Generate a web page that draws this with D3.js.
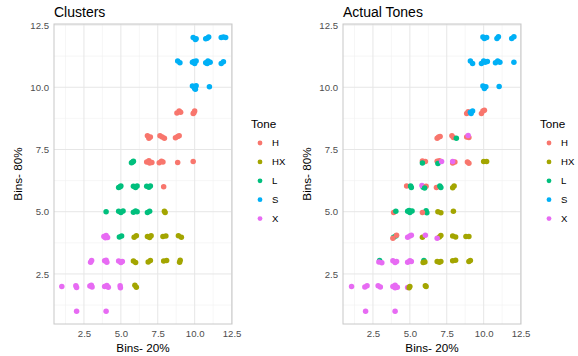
<!DOCTYPE html>
<html>
<head>
<meta charset="utf-8">
<script src="https://cdn.jsdelivr.net/npm/d3@7"></script>
<style>
  body { margin: 0; background: #fff; }
  svg { font-family: "Liberation Sans", Arial, sans-serif; }
</style>
</head>
<body>
<div id="chart"></div>
<script>
const tones = ["H", "HX", "L", "S", "X"];
const toneColors = ["#F8766D", "#A3A500", "#00BF7D", "#00B0F6", "#E76BF3"];
const majorTicks = [2.5, 5.0, 7.5, 10.0, 12.5];
const minorTicks = [1.25, 3.75, 6.25, 8.75, 11.25];
const panelTitles = ["Clusters", "Actual Tones"];

// jittered points: [bins 20%, bins 80%, tone]
const clusterPts = [
  [9.9, 12.0, "S"], [10.1, 11.95, "S"], [10.05, 11.92, "S"],
  [10.75, 11.95, "S"], [10.95, 12.02, "S"], [10.85, 11.97, "S"],
  [11.8, 12.0, "S"], [11.95, 12.02, "S"], [12.1, 12.0, "S"],
  [8.85, 11.05, "S"], [9.0, 10.98, "S"],
  [9.85, 11.0, "S"], [10.0, 10.95, "S"], [10.1, 11.05, "S"], [9.95, 11.03, "S"],
  [10.75, 10.98, "S"], [10.9, 11.05, "S"], [11.05, 11.0, "S"], [10.85, 10.95, "S"],
  [11.8, 10.95, "S"], [11.95, 11.02, "S"],
  [9.85, 10.05, "S"], [10.0, 9.95, "S"], [9.95, 10.02, "S"], [10.1, 10.06, "S"], [10.05, 9.92, "S"],
  [11.0, 10.02, "S"],
  [8.8, 8.97, "H"], [8.95, 9.05, "H"], [9.05, 9.0, "H"], [9.9, 8.95, "H"], [10.0, 9.05, "H"], [9.95, 8.98, "H"],
  [6.8, 8.05, "H"], [6.9, 7.95, "H"], [7.0, 8.0, "H"],
  [7.65, 8.05, "H"], [7.8, 8.0, "H"], [7.95, 7.95, "H"],
  [8.7, 7.97, "H"], [8.85, 8.02, "H"], [8.95, 8.05, "H"],
  [5.72, 6.97, "L"], [5.85, 7.03, "L"], [5.8, 7.0, "L"],
  [6.75, 7.0, "H"], [6.9, 7.05, "H"], [7.1, 6.98, "H"], [6.95, 6.96, "H"],
  [7.6, 6.97, "H"], [7.75, 7.03, "H"], [7.85, 7.0, "H"],
  [8.85, 6.98, "H"], [9.9, 7.02, "H"],
  [4.85, 5.97, "L"], [5.0, 6.03, "L"], [4.95, 6.0, "L"],
  [5.85, 6.02, "L"], [6.0, 5.97, "L"], [6.1, 6.03, "L"], [5.95, 6.0, "L"],
  [6.75, 6.02, "L"], [6.9, 5.98, "L"], [7.0, 6.03, "L"],
  [7.9, 6.0, "H"],
  [4.0, 5.0, "L"],
  [4.85, 5.02, "L"], [5.0, 4.97, "L"], [5.15, 5.03, "L"],
  [5.85, 4.98, "L"], [6.0, 5.03, "L"], [6.1, 5.0, "L"],
  [6.8, 4.97, "L"], [6.95, 5.02, "L"],
  [7.95, 5.02, "HX"], [8.0, 4.97, "HX"],
  [3.85, 4.0, "X"], [4.0, 4.04, "X"], [4.1, 3.96, "X"], [3.95, 3.95, "X"],
  [4.9, 3.98, "L"], [5.05, 4.02, "L"],
  [5.9, 3.97, "HX"], [6.05, 4.03, "HX"],
  [6.8, 4.0, "HX"], [6.95, 3.96, "HX"], [7.05, 4.03, "HX"],
  [7.85, 4.0, "HX"], [8.05, 4.02, "HX"],
  [8.9, 4.03, "HX"], [9.1, 3.97, "HX"],
  [2.95, 2.97, "X"], [3.02, 3.04, "X"],
  [3.9, 3.03, "X"], [4.05, 2.97, "X"], [4.0, 3.05, "X"],
  [4.85, 3.02, "X"], [5.0, 2.96, "X"], [5.1, 3.0, "X"],
  [5.85, 3.02, "HX"], [6.0, 2.96, "HX"],
  [6.85, 2.98, "HX"], [7.0, 3.04, "HX"],
  [7.9, 3.02, "HX"], [8.1, 3.04, "HX"],
  [8.98, 2.97, "HX"], [9.02, 3.05, "HX"],
  [1.0, 2.0, "X"],
  [1.95, 2.03, "X"], [2.0, 1.96, "X"],
  [2.9, 2.02, "X"], [3.05, 1.98, "X"], [3.0, 2.05, "X"],
  [3.9, 2.0, "X"], [4.05, 2.04, "X"], [4.15, 1.97, "X"],
  [4.95, 2.03, "X"], [4.97, 1.95, "X"],
  [5.95, 2.05, "HX"], [6.05, 1.97, "HX"],
  [2.0, 1.0, "X"], [4.0, 1.0, "X"]
];

const actualPts = [
  [9.95, 12.02, "S"], [10.05, 11.96, "S"], [10.2, 12.0, "S"],
  [10.9, 11.96, "S"], [11.0, 12.03, "S"],
  [11.9, 11.96, "S"], [12.05, 12.03, "S"],
  [9.1, 11.05, "S"], [9.25, 10.95, "S"],
  [9.85, 10.95, "S"], [10.0, 11.05, "S"], [10.1, 11.0, "S"], [10.25, 11.03, "S"],
  [10.8, 10.98, "S"], [10.95, 11.05, "S"], [11.1, 11.0, "S"],
  [12.05, 11.0, "S"],
  [9.95, 10.05, "S"], [10.05, 9.95, "S"], [10.15, 10.02, "S"],
  [11.05, 10.03, "S"],
  [8.85, 8.95, "H"], [8.95, 9.02, "H"],
  [9.1, 9.0, "S"], [9.25, 9.05, "S"], [9.15, 8.95, "S"],
  [9.85, 8.95, "H"], [9.95, 9.05, "H"], [10.05, 9.08, "H"],
  [6.85, 7.95, "H"], [6.95, 8.0, "H"], [7.05, 8.02, "H"],
  [7.85, 8.05, "H"], [7.95, 7.98, "H"],
  [8.15, 7.95, "L"],
  [8.85, 8.0, "H"], [9.0, 7.98, "H"],
  [8.95, 8.06, "X"],
  [5.85, 7.04, "H"], [6.05, 7.02, "H"], [5.85, 6.96, "L"],
  [6.85, 7.03, "H"], [7.0, 7.05, "H"], [6.9, 6.94, "L"], [7.15, 7.02, "X"],
  [7.9, 6.96, "H"], [8.05, 7.0, "H"], [7.9, 7.02, "X"],
  [8.9, 7.0, "H"], [9.0, 6.95, "H"],
  [10.0, 7.02, "HX"], [10.2, 7.02, "HX"],
  [4.78, 6.03, "H"], [5.1, 5.97, "L"], [5.05, 6.03, "L"],
  [5.9, 5.98, "L"], [5.82, 6.05, "X"], [6.1, 6.02, "H"], [6.0, 5.95, "L"],
  [6.8, 5.97, "H"], [7.03, 6.03, "L"], [7.1, 5.97, "L"],
  [7.9, 5.96, "HX"], [8.0, 6.03, "HX"],
  [3.9, 4.97, "H"], [4.05, 5.02, "L"],
  [4.85, 5.02, "L"], [5.0, 4.97, "L"], [5.15, 5.03, "L"], [4.95, 5.05, "L"],
  [6.1, 5.04, "L"], [6.15, 4.96, "L"], [5.85, 4.97, "H"],
  [6.9, 5.0, "HX"], [7.1, 4.96, "HX"],
  [7.95, 5.02, "HX"],
  [3.9, 3.97, "L"], [4.05, 4.02, "L"], [4.1, 4.05, "H"], [3.85, 3.93, "H"],
  [4.85, 3.97, "X"], [5.0, 4.02, "X"], [5.1, 4.05, "X"],
  [5.85, 3.97, "HX"], [6.05, 4.05, "X"],
  [7.0, 3.98, "HX"], [7.1, 4.04, "HX"], [6.85, 3.93, "X"],
  [7.9, 4.02, "HX"], [8.1, 3.98, "HX"],
  [8.8, 4.0, "HX"], [9.0, 4.0, "HX"],
  [2.95, 3.04, "L"], [2.9, 2.98, "X"], [3.1, 2.95, "X"],
  [3.85, 3.03, "X"], [4.0, 2.96, "X"], [4.1, 3.0, "X"],
  [4.85, 2.97, "X"], [5.0, 3.03, "X"], [5.1, 3.0, "X"],
  [5.95, 3.04, "L"], [5.9, 2.96, "HX"], [6.02, 2.98, "HX"],
  [6.85, 3.0, "HX"], [7.0, 2.97, "HX"], [7.1, 3.0, "HX"],
  [7.9, 3.03, "HX"], [8.1, 3.05, "HX"],
  [9.0, 3.0, "HX"], [9.1, 3.04, "HX"],
  [1.05, 2.0, "X"],
  [1.95, 1.98, "X"], [2.1, 2.03, "X"],
  [2.85, 2.03, "X"], [3.0, 1.98, "X"],
  [3.85, 2.0, "X"], [4.0, 2.05, "X"], [4.15, 1.97, "X"], [4.0, 1.95, "X"],
  [4.85, 1.96, "X"], [5.0, 2.0, "HX"], [4.95, 1.95, "HX"],
  [6.05, 2.03, "HX"], [6.1, 2.0, "HX"],
  [2.0, 1.0, "X"], [4.0, 1.0, "X"]
];

const width = 578;
const height = 356;

const color = d3.scaleOrdinal().domain(tones).range(toneColors);

const svg = d3.select("#chart").append("svg")
  .attr("width", width)
  .attr("height", height);

function drawPanel(pts, title, left) {
  const right = left + 178;
  const top = 24, bottom = 324;

  const x = d3.scaleLinear().domain([0.47, 12.53]).range([left, right]);
  const y = d3.scaleLinear().domain([0.49, 12.54]).range([bottom, top]);

  const g = svg.append("g");

  // grid
  g.append("g")
    .selectAll("line")
    .data(minorTicks)
    .join("line")
    .attr("x1", d => x(d)).attr("x2", d => x(d))
    .attr("y1", top).attr("y2", bottom)
    .attr("stroke", "#f0f0f0").attr("stroke-width", 0.6);
  g.append("g")
    .selectAll("line")
    .data(minorTicks)
    .join("line")
    .attr("y1", d => y(d)).attr("y2", d => y(d))
    .attr("x1", left).attr("x2", right)
    .attr("stroke", "#f0f0f0").attr("stroke-width", 0.6);
  g.append("g")
    .selectAll("line")
    .data(majorTicks)
    .join("line")
    .attr("x1", d => x(d)).attr("x2", d => x(d))
    .attr("y1", top).attr("y2", bottom)
    .attr("stroke", "#e6e6e6").attr("stroke-width", 1);
  g.append("g")
    .selectAll("line")
    .data(majorTicks)
    .join("line")
    .attr("y1", d => y(d)).attr("y2", d => y(d))
    .attr("x1", left).attr("x2", right)
    .attr("stroke", "#e6e6e6").attr("stroke-width", 1);

  g.append("g")
    .selectAll("circle")
    .data(pts)
    .join("circle")
    .attr("cx", d => x(d[0]))
    .attr("cy", d => y(d[1]))
    .attr("r", 2.75)
    .attr("fill", d => color(d[2]));

  g.append("rect")
    .attr("x", left).attr("y", top)
    .attr("width", right - left).attr("height", bottom - top)
    .attr("fill", "none")
    .attr("stroke", "#c8c8c8");

  // axes
  const xAxis = g.append("g")
    .attr("transform", `translate(0,${bottom})`)
    .call(d3.axisBottom(x).tickValues(majorTicks).tickFormat(d3.format(".1f")).tickSize(0).tickPadding(6));
  const yAxis = g.append("g")
    .attr("transform", `translate(${left},0)`)
    .call(d3.axisLeft(y).tickValues(majorTicks).tickFormat(d3.format(".1f")).tickSize(0).tickPadding(5));
  [xAxis, yAxis].forEach(a => {
    a.select(".domain").remove();
    a.selectAll("text")
      .attr("fill", "#4d4d4d")
      .style("font-size", "9.6px")
      .style("font-family", "Liberation Sans, Arial, sans-serif");
  });

  g.append("text")
    .attr("x", left).attr("y", 17)
    .attr("font-size", 14)
    .attr("fill", "#000")
    .text(title);

  g.append("text")
    .attr("x", (left + right) / 2).attr("y", 352)
    .attr("text-anchor", "middle")
    .attr("font-size", 11.7)
    .text("Bins- 20%");

  g.append("text")
    .attr("transform", `translate(${left - 32},${(top + bottom) / 2}) rotate(-90)`)
    .attr("text-anchor", "middle")
    .attr("font-size", 11.7)
    .text("Bins- 80%");

  // legend
  const lg = g.append("g").attr("transform", `translate(${right + 19},0)`);
  lg.append("text")
    .attr("x", 0).attr("y", 128)
    .attr("font-size", 11.7)
    .text("Tone");
  const item = lg.selectAll("g.item")
    .data(tones)
    .join("g")
    .attr("class", "item")
    .attr("transform", (d, i) => `translate(0,${143 + i * 18.9})`);
  item.append("circle")
    .attr("cx", 9).attr("cy", 0).attr("r", 2.4)
    .attr("fill", d => color(d));
  item.append("text")
    .attr("x", 21).attr("y", 3.4)
    .attr("font-size", 9.6)
    .attr("fill", "#000")
    .text(d => d);
}

drawPanel(clusterPts, panelTitles[0], 54);
drawPanel(actualPts, panelTitles[1], 343);
</script>
</body>
</html>
